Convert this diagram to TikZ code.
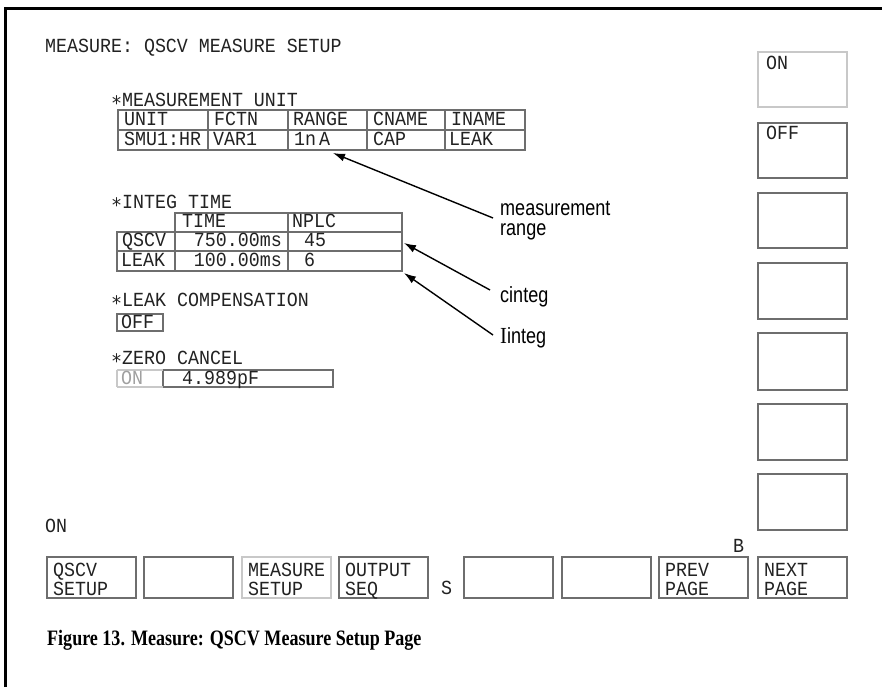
\documentclass[tikz,border=0pt]{standalone}
\usepackage{fontspec}
\usetikzlibrary{arrows.meta}
\newfontfamily\scrfont{Liberation Mono}[FakeStretch=0.915]
\newfontfamily\symfont{DejaVu Sans Mono}[FakeStretch=0.915]
\newfontfamily\annfont{Liberation Sans}[FakeStretch=0.82]
\newfontfamily\annserif{Liberation Serif}[FakeStretch=0.9]
\newfontfamily\capfont{Liberation Serif}[FakeStretch=0.82]
\definecolor{scrtext}{HTML}{222222}
\definecolor{boxdark}{HTML}{6E6E6E}
\definecolor{boxlight}{HTML}{C8C8C8}
\definecolor{textlight}{HTML}{A0A0A0}
\newcommand\scrstar{{\symfont ∗}}
\tikzset{
  scr/.style={font=\scrfont\fontsize{20}{22}\selectfont, text=scrtext, inner sep=0pt, anchor=base west, text height=11.5pt, text depth=0pt},
  dk/.style={draw=boxdark, line width=1.6pt},
  lt/.style={draw=boxlight, line width=1.6pt},
  ann/.style={font=\annfont\fontsize{22}{20}\selectfont, inner sep=0pt, anchor=base west},
  arr/.style={-{Latex[length=12pt,width=8pt]}, line width=1.4pt},
  frame/.style={line width=3pt},
}
\newcommand\btn[5]{%
  \draw[#5] (#2,557) rectangle ++(89,41);
  \node[scr] (#1a) at (#2+6,576.7) {#3};
  \node[scr] (#1b) at (#2+6,595.7) {#4};
}
\begin{document}
\begin{tikzpicture}[x=1pt,y=-1pt]
\useasboundingbox (0,0) rectangle (882,687);
\fill[white] (0,0) rectangle (882,687);
% frame
\draw[frame] (5.5,687) -- (5.5,8.5) -- (882,8.5);
% title
\node[scr] (title) at (45,52.5) {MEASURE: QSCV MEASURE SETUP};
% measurement unit
\node[scr] (mulab) at (111,106.5) {\scrstar MEASUREMENT UNIT};
\draw[dk] (118,110) rectangle (525,150);
\draw[dk] (118,130) -- (525,130);
\foreach \xx in {208,288,367,445} \draw[dk] (\xx,110) -- (\xx,150);
\node[scr] (u1) at (124,125.7) {UNIT};
\node[scr] (u2) at (214,125.7) {FCTN};
\node[scr] (u3) at (293,125.7) {RANGE};
\node[scr] (u4) at (373,125.7) {CNAME};
\node[scr] (u5) at (451,125.7) {INAME};
\node[scr] (v1) at (124,145.7) {SMU1:HR};
\node[scr] (v2) at (213,145.7) {VAR1};
\node[scr] (v3) at (294,145.7) {1n\hspace{3pt}A};
\node[scr] (v4) at (373,145.7) {CAP};
\node[scr] (v5) at (449,145.7) {LEAK};
% integ time
\node[scr] (itlab) at (111,208.2) {\scrstar INTEG TIME};
\draw[dk] (175,213) rectangle (402,232);
\draw[dk] (288,213) -- (288,232);
\draw[dk] (117,232) rectangle (402,271);
\draw[dk] (117,251) -- (402,251);
\draw[dk] (175,232) -- (175,271);
\draw[dk] (288,232) -- (288,271);
\node[scr] (th1) at (182,227.7) {TIME};
\node[scr] (th2) at (292,227.7) {NPLC};
\node[scr] (q1) at (122,246.7) {QSCV};
\node[scr,anchor=base east] (q2) at (282,246.7) {750.00ms};
\node[scr] (q3) at (304,246.7) {45};
\node[scr] (l1) at (121,266.7) {LEAK};
\node[scr,anchor=base east] (l2) at (282,266.7) {100.00ms};
\node[scr] (l3) at (304,266.7) {6};
% leak compensation
\node[scr] (lclab) at (111,306.5) {\scrstar LEAK COMPENSATION};
\draw[dk] (117,314) rectangle (163,331);
\node[scr] (lcoff) at (121,328.5) {OFF};
% zero cancel
\node[scr] (zclab) at (111,364.5) {\scrstar ZERO CANCEL};
\draw[dk] (163,370) rectangle (333,387);
\draw[lt] (117,370) -- (163,370) (117,387) -- (163,387) (117,370) -- (117,387);
\node[scr,text=textlight] (zcon) at (121,384) {ON};
\node[scr] (zcval) at (182,384) {4.989pF};
% right softkeys
\draw[lt] (758,52) rectangle (847,107);
\node[scr] (ron) at (766,69.7) {ON};
\draw[dk] (758,123) rectangle (847,178);
\node[scr] (roff) at (766,139.7) {OFF};
\draw[dk] (758,193) rectangle (847,248);
\draw[dk] (758,263) rectangle (847,319);
\draw[dk] (758,333) rectangle (847,390);
\draw[dk] (758,404) rectangle (847,460);
\draw[dk] (758,474) rectangle (847,530);
% bottom
\node[scr] (bon) at (45,532.7) {ON};
\btn{b1}{47}{QSCV}{SETUP}{dk}
\btn{b2}{144}{}{}{dk}
\btn{b3}{242}{MEASURE}{SETUP}{lt}
\btn{b4}{339}{OUTPUT}{SEQ}{dk}
\node[scr] (ls) at (441,594.7) {S};
\btn{b5}{464}{}{}{dk}
\btn{b6}{562}{}{}{dk}
\btn{b7}{659}{PREV}{PAGE}{dk}
\node[scr] (lb) at (733,552.7) {B};
\btn{b8}{758}{NEXT}{PAGE}{dk}
% annotations
\node[ann] (mr1) at (500,215) {measurement};
\node[ann] (mr2) at (500,235) {range};
\node[ann] (ci) at (500,302) {cinteg};
\node[ann] (li) at (500,343) {{\annserif\fontsize{23}{20}\selectfont I}integ};
\coordinate (tipmr) at (333,153);
\coordinate (tipci) at (404,243);
\coordinate (tipli) at (404,273);
\draw[arr] ([xshift=-7pt,yshift=-3pt]mr1.base west) -- (tipmr);
\draw[arr] ([xshift=-10pt,yshift=12pt]ci.base west) -- (tipci);
\draw[arr] ([xshift=-7pt,yshift=8pt]li.base west) -- (tipli);
% caption
\node[font=\capfont\bfseries\fontsize{22}{24}\selectfont, inner sep=0pt, anchor=base west] (cap) at (47,645) {Figure 13. Measure: QSCV Measure Setup Page};
\end{tikzpicture}
\end{document}
